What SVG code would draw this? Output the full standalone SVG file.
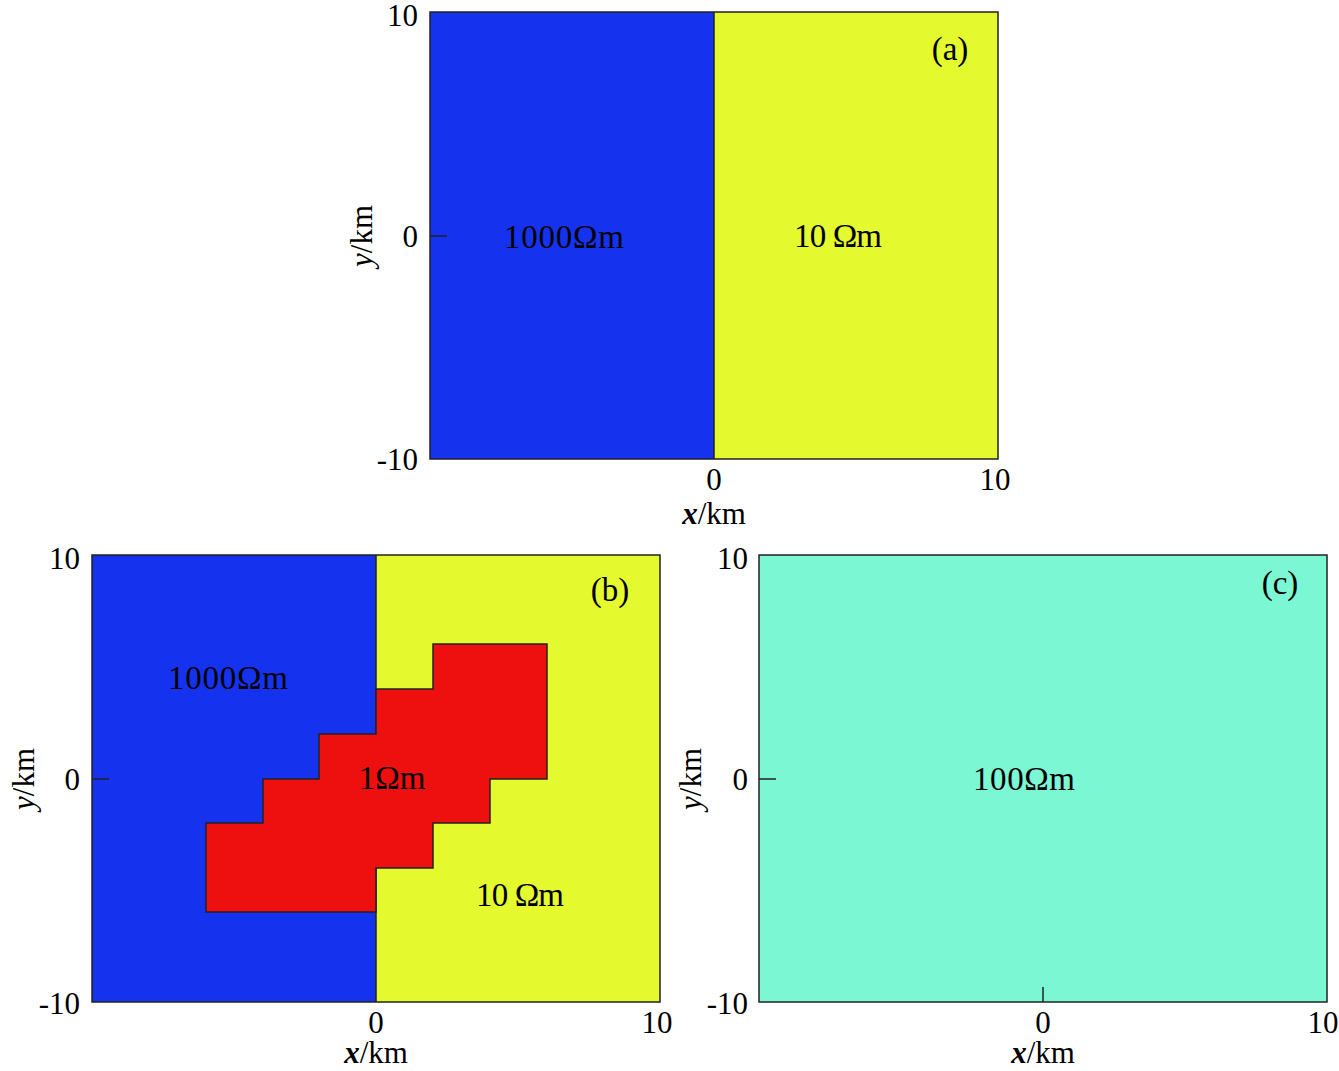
<svg xmlns="http://www.w3.org/2000/svg" width="1339" height="1071" viewBox="0 0 1339 1071">
<style>
.t{font-family:"Liberation Serif","Times New Roman",serif;font-size:31px;fill:#000}
.l{font-family:"Liberation Serif","Times New Roman",serif;font-size:33px;fill:#000}
.e{stroke:#222;stroke-width:1.5}
.ax{fill:none;stroke:#222;stroke-width:1.5}
.blue{fill:#1533EE}
.yel{fill:#E4FA2E}
.red{fill:#EE0F0F}
.teal{fill:#7BF7D4}
</style>
<rect width="1339" height="1071" fill="#fff"/>
<g id="panel-a">
<rect class="blue" x="430" y="12" width="284" height="447"/>
<rect class="yel" x="714" y="12" width="284" height="447"/>
<line class="e" x1="714" y1="12" x2="714" y2="459"/>
<rect class="ax" x="430" y="12" width="568" height="447"/>
<line class="e" x1="430" y1="236" x2="447" y2="236"/>
<text class="t" x="418" y="26" text-anchor="end">10</text>
<text class="t" x="418" y="247" text-anchor="end">0</text>
<text class="t" x="418" y="470" text-anchor="end">-10</text>
<text class="t" x="714" y="490" text-anchor="middle">0</text>
<text class="t" x="995" y="490" text-anchor="middle">10</text>
<text class="t" x="714" y="524" text-anchor="middle"><tspan font-style="italic" font-weight="bold">x</tspan>/km</text>
<text class="t" transform="translate(372,236) rotate(-90)" text-anchor="middle"><tspan font-style="italic">y</tspan>/km</text>
<text class="l" x="564" y="248" text-anchor="middle" textLength="120">1000Ωm</text>
<text class="l" x="838" y="247" text-anchor="middle" textLength="88">10 Ωm</text>
<text class="l" x="950" y="60" text-anchor="middle">(a)</text>
</g>
<g id="panel-b">
<rect class="blue" x="92" y="555" width="284" height="447"/>
<rect class="yel" x="376" y="555" width="284" height="447"/>
<line class="e" x1="376" y1="555" x2="376" y2="1002"/>
<polygon class="red e" points="433,644 547,644 547,779 490,779 490,823 433,823 433,868 376,868 376,912 206,912 206,823 263,823 263,779 319,779 319,734 376,734 376,689 433,689"/>
<rect class="ax" x="92" y="555" width="568" height="447"/>
<line class="e" x1="92" y1="779" x2="109" y2="779"/>
<text class="t" x="80" y="569" text-anchor="end">10</text>
<text class="t" x="80" y="790" text-anchor="end">0</text>
<text class="t" x="80" y="1014" text-anchor="end">-10</text>
<text class="t" x="376" y="1033" text-anchor="middle">0</text>
<text class="t" x="657" y="1033" text-anchor="middle">10</text>
<text class="t" x="376" y="1063" text-anchor="middle"><tspan font-style="italic" font-weight="bold">x</tspan>/km</text>
<text class="t" transform="translate(34,779) rotate(-90)" text-anchor="middle"><tspan font-style="italic">y</tspan>/km</text>
<text class="l" x="228" y="689" text-anchor="middle" textLength="120">1000Ωm</text>
<text class="l" x="392" y="789" text-anchor="middle">1Ωm</text>
<text class="l" x="520" y="906" text-anchor="middle" textLength="88">10 Ωm</text>
<text class="l" x="610" y="601" text-anchor="middle">(b)</text>
</g>
<g id="panel-c">
<rect class="teal" x="759" y="555" width="568" height="447"/>
<rect class="ax" x="759" y="555" width="568" height="447"/>
<line class="e" x1="759" y1="779" x2="776" y2="779"/>
<line class="e" x1="1043" y1="1002" x2="1043" y2="987"/>
<text class="t" x="748" y="569" text-anchor="end">10</text>
<text class="t" x="748" y="790" text-anchor="end">0</text>
<text class="t" x="748" y="1014" text-anchor="end">-10</text>
<text class="t" x="1043" y="1033" text-anchor="middle">0</text>
<text class="t" x="1323" y="1033" text-anchor="middle">10</text>
<text class="t" x="1043" y="1063" text-anchor="middle"><tspan font-style="italic" font-weight="bold">x</tspan>/km</text>
<text class="t" transform="translate(701,779) rotate(-90)" text-anchor="middle"><tspan font-style="italic">y</tspan>/km</text>
<text class="l" x="1024" y="790" text-anchor="middle" textLength="102">100Ωm</text>
<text class="l" x="1280" y="594" text-anchor="middle">(c)</text>
</g>
</svg>
